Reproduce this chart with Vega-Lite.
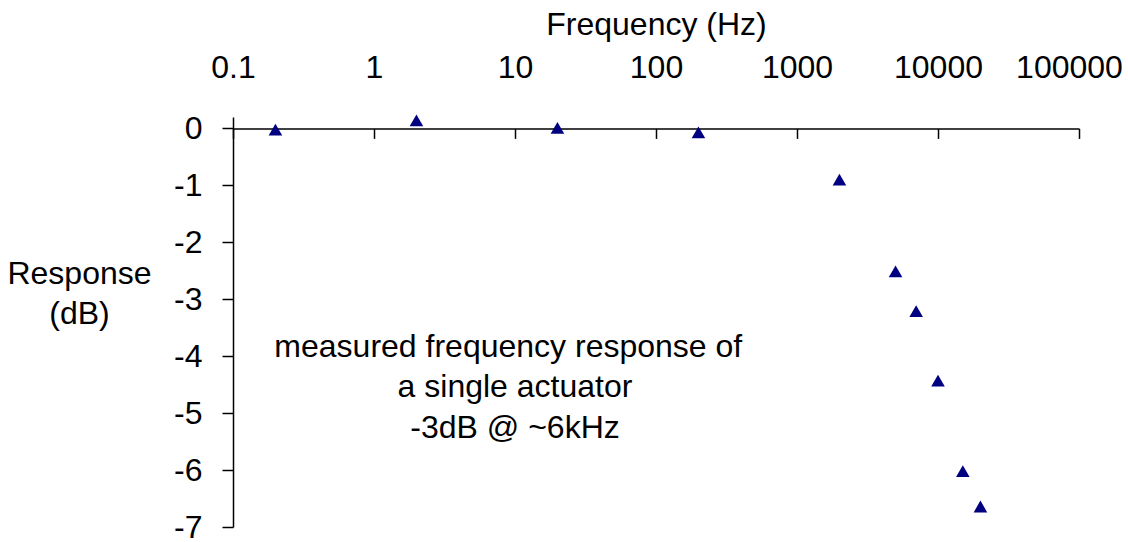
{
  "$schema": "https://vega.github.io/schema/vega-lite/v6.json",
  "width": 846,
  "height": 410,
  "autosize": {"type": "none"},
  "padding": {"left": 233, "top": 117, "right": 49, "bottom": 15},
  "background": "white",
  "config": {
    "view": {"stroke": null},
    "font": "Liberation Sans",
    "axis": {
      "domainColor": "black",
      "tickColor": "black",
      "grid": false,
      "labelColor": "black",
      "titleColor": "black",
      "labelFont": "Liberation Sans",
      "titleFont": "Liberation Sans",
      "labelFontSize": 32,
      "titleFontSize": 32,
      "labelFontWeight": "normal",
      "titleFontWeight": "normal",
      "domainWidth": 1.5,
      "tickWidth": 1.5,
      "labelFlush": false,
      "labelOverlap": false
    }
  },
  "layer": [
    {
      "data": {
        "values": [
          {"freq": 0.2, "response": -0.02},
          {"freq": 2, "response": 0.14},
          {"freq": 20, "response": 0.01},
          {"freq": 200, "response": -0.07},
          {"freq": 2000, "response": -0.9},
          {"freq": 5000, "response": -2.51},
          {"freq": 7000, "response": -3.21},
          {"freq": 10000, "response": -4.43},
          {"freq": 15000, "response": -6.02},
          {"freq": 20000, "response": -6.64}
        ]
      },
      "mark": {"type": "point", "shape": "triangle-up", "filled": true, "color": "#000080", "size": 185, "opacity": 1},
      "encoding": {
        "x": {
          "field": "freq",
          "type": "quantitative",
          "scale": {"type": "log", "domain": [0.1, 100000], "nice": false},
          "axis": {
            "orient": "top",
            "title": "Frequency (Hz)",
            "values": [0.1, 1, 10, 100, 1000, 10000, 100000],
            "labelExpr": "'' + datum.value",
            "tickSize": -10,
            "labelPadding": 54,
            "offset": -11.4,
            "titlePadding": 10,
            "labelOffset": {"condition": {"test": "datum.value == 100000", "value": -10}, "value": 0}
          }
        },
        "y": {
          "field": "response",
          "type": "quantitative",
          "scale": {"domain": [-7, 0.2], "nice": false, "zero": false},
          "axis": {
            "values": [-7, -6, -5, -4, -3, -2, -1, 0],
            "labelExpr": "'' + datum.value",
            "tickSize": 11,
            "labelPadding": 20,
            "title": ["Response", "(dB)"],
            "titleAngle": 0,
            "titleAlign": "center",
            "titleBaseline": "alphabetic",
            "titleX": -154,
            "titleY": 166,
            "titleLineHeight": 40
          }
        }
      }
    },
    {
      "data": {
        "values": [
          {"x": 8.96, "y": -4.02, "label": "measured frequency response of"},
          {"x": 10, "y": -4.72, "label": "a single actuator"},
          {"x": 10, "y": -5.44, "label": "-3dB @ ~6kHz"}
        ]
      },
      "mark": {"type": "text", "fontSize": 32, "align": "center", "baseline": "alphabetic", "color": "black", "font": "Liberation Sans"},
      "encoding": {
        "x": {"field": "x", "type": "quantitative"},
        "y": {"field": "y", "type": "quantitative"},
        "text": {"field": "label"}
      }
    }
  ]
}
